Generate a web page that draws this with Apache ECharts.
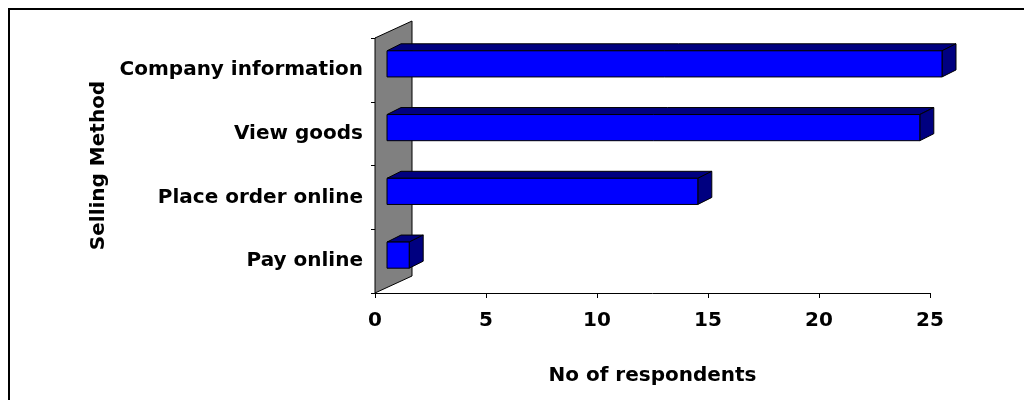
<!DOCTYPE html>
<html>
<head>
<meta charset="utf-8">
<script src="https://cdn.jsdelivr.net/npm/echarts@6/dist/echarts.min.js"></script>
<style>
html,body{margin:0;padding:0;background:#fff;}
#chart{width:1024px;height:400px;}
</style>
</head>
<body>
<div id="chart"></div>
<script>
const categories = ['Company information', 'View goods', 'Place order online', 'Pay online'];
const respondents = [25, 24, 14, 1];
const xTicks = [0, 5, 10, 15, 20, 25];
const xAxisTitle = 'No of respondents';
const yAxisTitle = 'Selling Method';

const FONT = 'DejaVu Sans';
const chart = echarts.init(document.getElementById('chart'), null, {renderer: 'canvas'});

// 3D geometry (pixels)
const WALL_DX = 37, WALL_DY = 17;
const FRONT_DX = 12, FRONT_DY = 6;
const DEPTH_DX = 14, DEPTH_DY = 7;

function renderWall(params, api) {
  const cs = params.coordSys;
  const x0 = cs.x, yT = cs.y, yB = cs.y + cs.height;
  return {
    type: 'polygon',
    shape: {points: [[x0, yB], [x0, yT], [x0 + WALL_DX, yT - WALL_DY], [x0 + WALL_DX, yB - WALL_DY]]},
    style: {fill: '#808080', stroke: '#000', lineWidth: 1}
  };
}

function renderBar(params, api) {
  const v = api.value(0), ci = api.value(1);
  const p0 = api.coord([0, ci]);
  const p1 = api.coord([v, ci]);
  const band = api.size([0, 1])[1];
  const h = band * 0.41;
  const xa = p0[0] + FRONT_DX, xb = p1[0] + FRONT_DX;
  const yc = p0[1] - FRONT_DY;
  const yt = yc - h / 2, yb = yc + h / 2;
  const st = {stroke: '#000', lineWidth: 1, lineJoin: 'round'};
  return {
    type: 'group',
    children: [
      {type: 'polygon', shape: {points: [[xa, yt], [xa + DEPTH_DX, yt - DEPTH_DY], [xb + DEPTH_DX, yt - DEPTH_DY], [xb, yt]]},
       style: Object.assign({fill: '#000080'}, st)},
      {type: 'polygon', shape: {points: [[xb, yt], [xb + DEPTH_DX, yt - DEPTH_DY], [xb + DEPTH_DX, yb - DEPTH_DY], [xb, yb]]},
       style: Object.assign({fill: '#000080'}, st)},
      {type: 'rect', shape: {x: xa, y: yt, width: xb - xa, height: h},
       style: Object.assign({fill: '#0000FF'}, st)}
    ]
  };
}

const txt = {color: '#000', fontFamily: FONT, fontWeight: 'bold', fontSize: 20};

chart.setOption({
  animation: false,
  backgroundColor: '#fff',
  graphic: [{
    type: 'polyline',
    shape: {points: [[9, 402], [9, 9], [1026, 9]]},
    style: {stroke: '#000', lineWidth: 2, fill: null},
    z: 100
  }],
  grid: {left: 375, top: 38, width: 555, height: 255, containLabel: false},
  xAxis: {
    type: 'value',
    min: xTicks[0], max: xTicks[xTicks.length - 1], interval: 5,
    splitLine: {show: false},
    axisLine: {show: true, lineStyle: {color: '#000', width: 1}},
    axisTick: {show: true, length: 5, lineStyle: {color: '#000'}},
    axisLabel: Object.assign({margin: 18}, txt),
    name: xAxisTitle, nameLocation: 'middle', nameGap: 73,
    nameTextStyle: txt
  },
  yAxis: {
    type: 'category',
    inverse: true,
    data: categories,
    boundaryGap: true,
    axisLine: {show: true, lineStyle: {color: '#000', width: 1}},
    axisTick: {show: true, length: 4, lineStyle: {color: '#000'}},
    axisLabel: Object.assign({margin: 12, padding: [3, 0, 0, 0]}, txt),
    splitLine: {show: false},
    name: yAxisTitle, nameLocation: 'middle', nameGap: 266,
    nameTextStyle: txt
  },
  series: [
    {type: 'custom', renderItem: renderWall, data: [[0, 0]], encode: {x: 0, y: 1}, z: 1, silent: true},
    {type: 'custom', renderItem: renderBar, data: respondents.map((v, i) => [v, i]), encode: {x: 0, y: 1}, z: 2}
  ]
});
</script>
</body>
</html>
